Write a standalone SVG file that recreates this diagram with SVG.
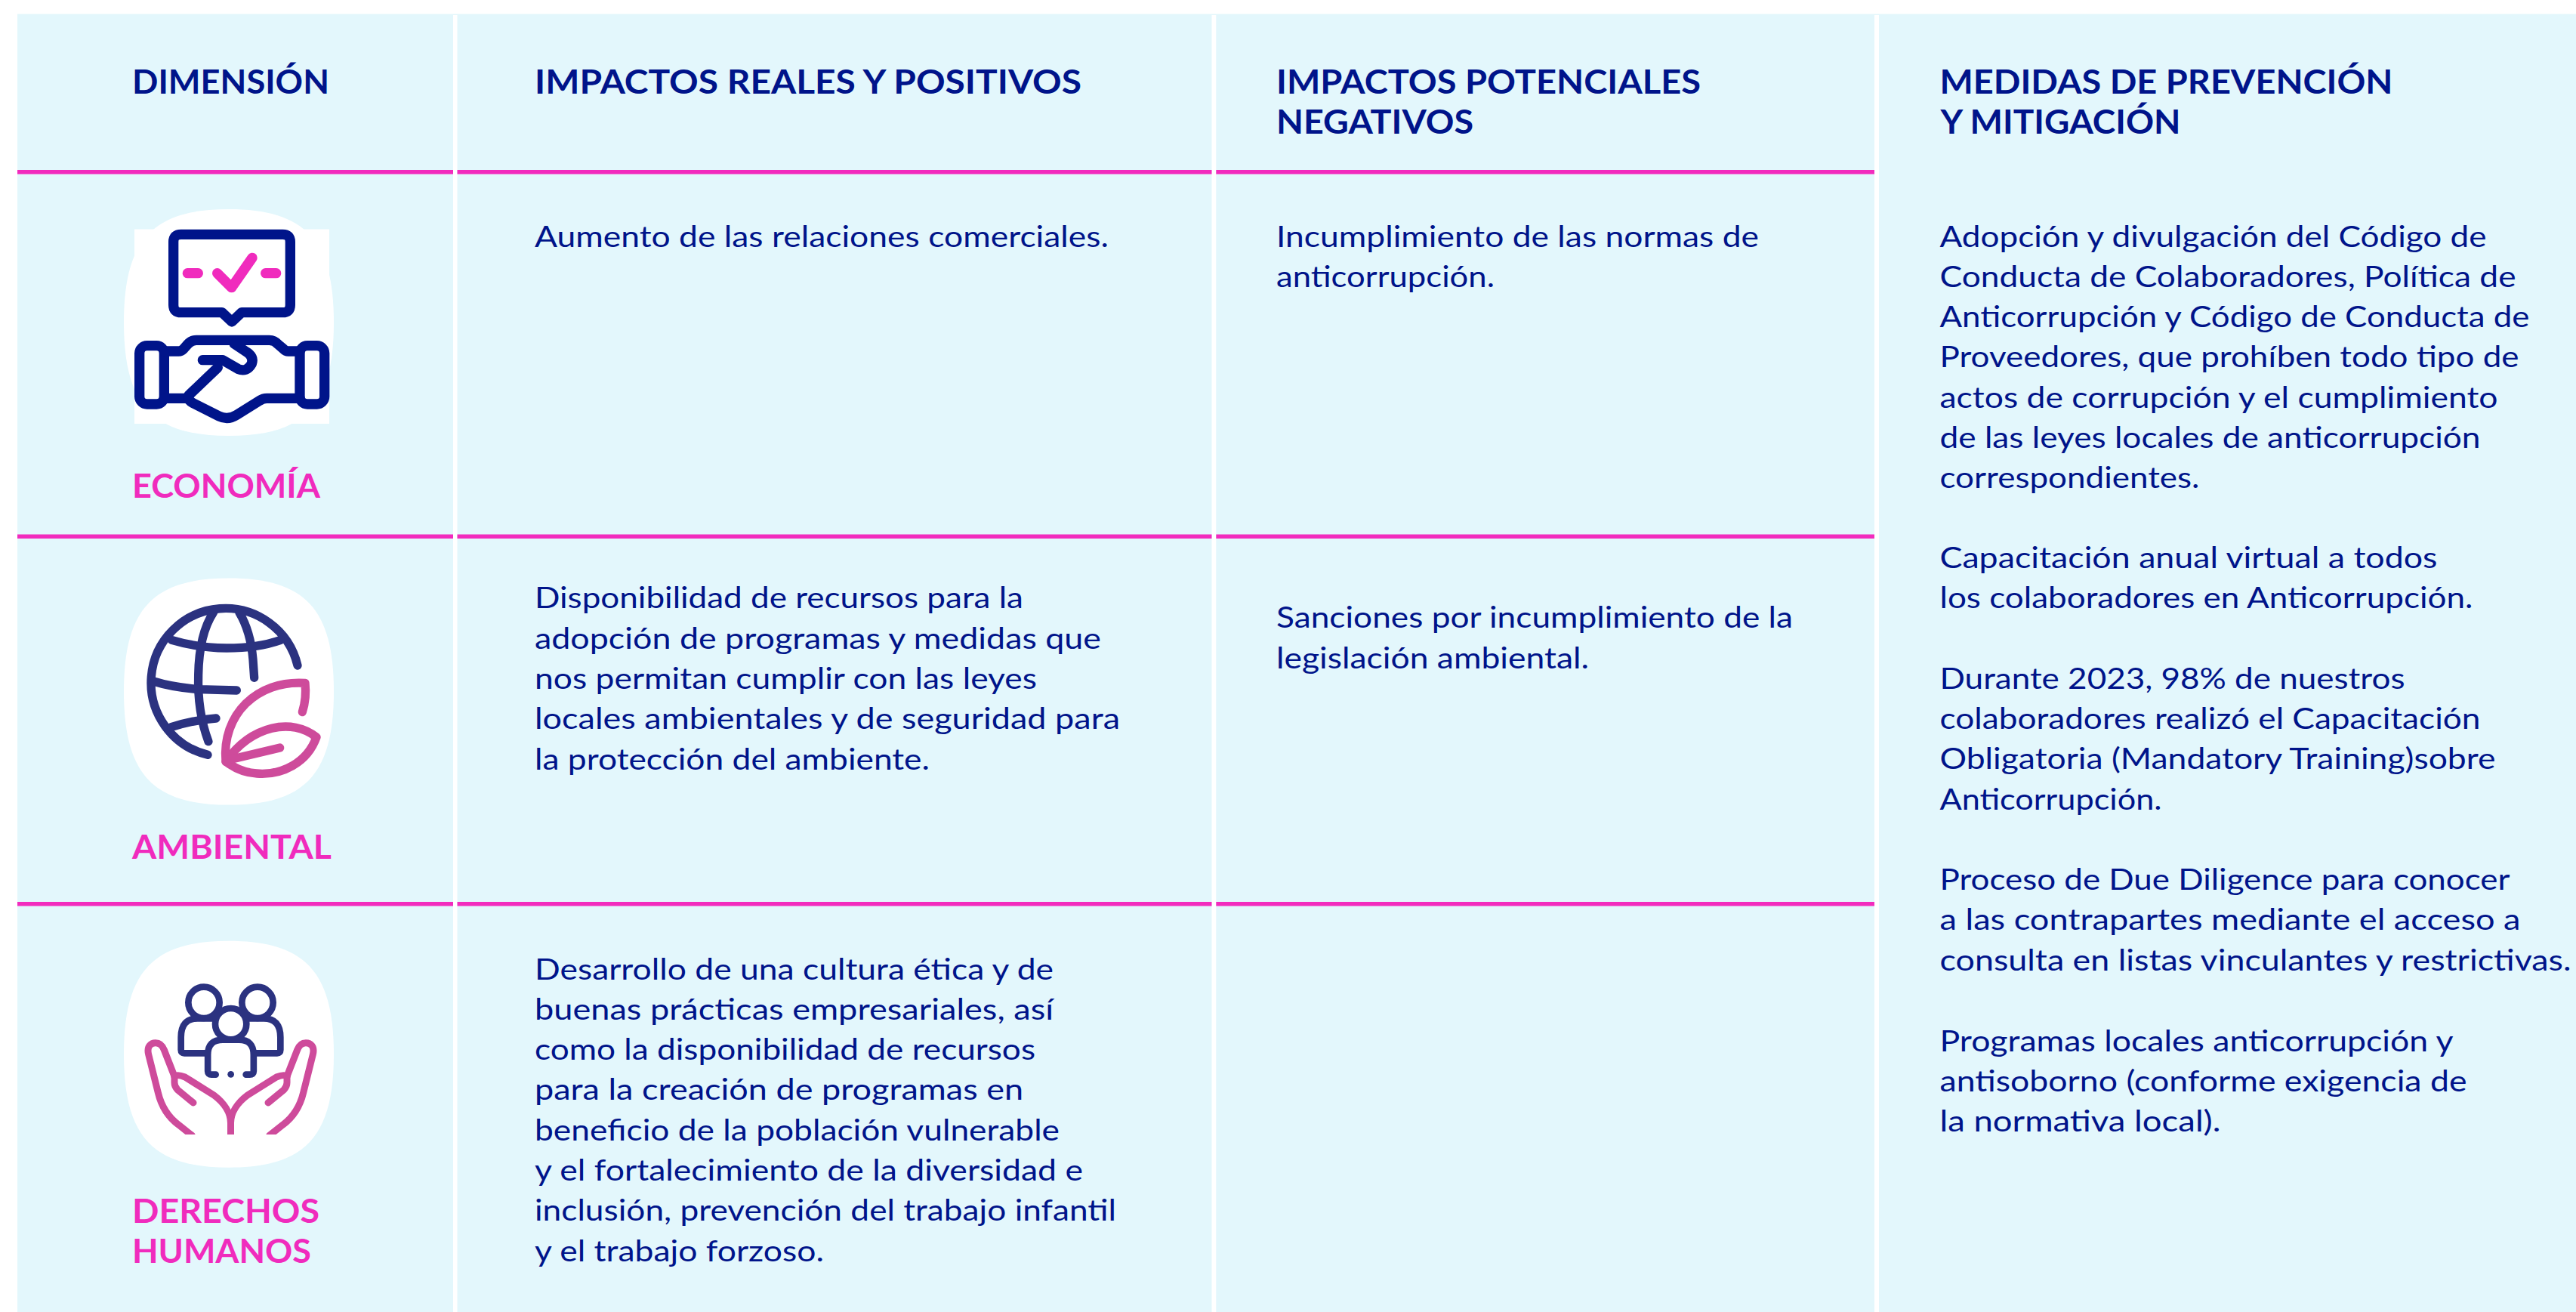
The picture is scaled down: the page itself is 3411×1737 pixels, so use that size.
<svg xmlns="http://www.w3.org/2000/svg" width="3411" height="1737" viewBox="0 0 3411 1737">
<style>
text{font-family:"Lato","Open Sans","Liberation Sans",sans-serif}
.b{font-size:39px;fill:#00148a;font-weight:400}
.h{font-size:44px;fill:#00148a;font-weight:700}
.l{font-size:44px;fill:#f02bbd;font-weight:700}
.rule{fill:#f22bbd}
.gap{fill:#fff}
.ln{fill:none;stroke-linecap:round;stroke-linejoin:round}
.nv{stroke:#00148a;stroke-width:40}
.pk{stroke:#f02bbd;stroke-width:40}
.g2{stroke:#2b3280;stroke-width:34}
.lf{stroke:#ce4b9b;stroke-width:34}
.p3{stroke:#2b3280;stroke-width:26}
.h3{stroke:#ce4b9b;stroke-width:27}
</style>
<defs>
<path id="blob" d="M0,-150C100,-150 139,-110 139,0C139,110 100,150 0,150C-100,150 -139,110 -139,0C-139,-110 -100,-150 0,-150Z" fill="#fff"/>
<clipPath id="cut"><rect x="150" y="400" width="800" height="446"/></clipPath>
<g id="hand" class="ln h3">
<path d="M403,850L350,808C305,775 280,730 268,680L230,528C222,495 240,482 258,482C275,482 285,492 292,510L333,615"/>
<path d="M333,615Q345,606 375,618L490,690C530,720 556,760 556.5,800V850"/>
<path d="M333,612V640Q333,655 345,668L408,720"/>
</g>
</defs>
<rect id="table-bg" x="23" y="18.500" width="3388" height="1718.500" fill="#e3f7fc"/>
<g id="grid">
<rect class="gap" x="600" y="20" width="5.500" height="1717"/>
<rect class="gap" x="1604.500" y="20" width="5.800" height="1717"/>
<rect class="gap" x="2482" y="20" width="6" height="1717"/>
<rect class="rule" x="23" y="225" width="577" height="5.500"/>
<rect class="rule" x="605.500" y="225" width="999" height="5.500"/>
<rect class="rule" x="1610.300" y="225" width="871.700" height="5.500"/>
<rect class="rule" x="23" y="707.500" width="577" height="5.500"/>
<rect class="rule" x="605.500" y="707.500" width="999" height="5.500"/>
<rect class="rule" x="1610.300" y="707.500" width="871.700" height="5.500"/>
<rect class="rule" x="23" y="1194" width="577" height="5.500"/>
<rect class="rule" x="605.500" y="1194" width="999" height="5.500"/>
<rect class="rule" x="1610.300" y="1194" width="871.700" height="5.500"/>
</g>
<g id="head-dimension"><text class="h" x="175" y="124" textLength="261" lengthAdjust="spacingAndGlyphs">DIMENSIÓN</text></g>
<g id="head-reales"><text class="h" x="708" y="124" textLength="724" lengthAdjust="spacingAndGlyphs">IMPACTOS REALES Y POSITIVOS</text></g>
<g id="head-potenciales"><text class="h" x="1690" y="124" textLength="562" lengthAdjust="spacingAndGlyphs">IMPACTOS POTENCIALES</text><text class="h" x="1690" y="177" textLength="261" lengthAdjust="spacingAndGlyphs">NEGATIVOS</text></g>
<g id="head-medidas" transform="translate(1.500 0)"><text class="h" x="2567" y="124" textLength="600" lengthAdjust="spacingAndGlyphs">MEDIDAS DE PREVENCIÓN</text><text class="h" x="2568" y="177" textLength="318" lengthAdjust="spacingAndGlyphs">Y MITIGACIÓN</text></g>

<g id="row-economia">
<use href="#blob" x="303" y="427"/>
<rect x="178" y="303.500" width="258" height="257.500" fill="#fff"/>
<g transform="translate(140 270) scale(.33333)">
<g class="ln nv">
<path d="M299,121H703Q733,121 733,151V401Q733,431 703,431H540L501,468L462,431H299Q269,431 269,401V151Q269,121 299,121Z"/>
<rect x="134" y="563" width="98" height="232" rx="30"/>
<rect x="771" y="563" width="98" height="232" rx="30"/>
<path d="M232,585H290Q300,585 310,575L325,558Q340,541 360,541H650Q670,541 685,558L705,575Q715,585 725,585H771"/>
<path d="M232,772H330"/>
<path d="M771,772H640Q625,772 610,782L520,838Q485,860 450,843L345,790Q315,772 335,755L445,650"/>
<path d="M385,620H465L525,655Q560,670 580,635Q590,605 555,585L510,555"/>
</g>
<g class="ln pk">
<path d="M325,275H367"/><path d="M635,275H677"/><path d="M443,275L500,332L582,214"/>
</g>
</g>
<text class="l" x="175" y="659" textLength="249" lengthAdjust="spacingAndGlyphs">ECONOMÍA</text>
</g>

<g id="row-ambiental">
<use href="#blob" x="303" y="915.600"/>
<g transform="translate(120 740) scale(.33333)">
<g class="ln g2">
<path d="M822,423A295,295 0 1 0 465,778"/>
<path d="M488,212C450,270 430,350 428,460C425,560 440,650 468,725"/>
<path d="M590,212C625,270 640,340 645,400L650,472"/>
<path d="M322,322C400,345 470,354 540,354C620,354 690,345 755,322"/>
<path d="M250,486C310,505 370,513 430,518L580,522"/>
<path d="M320,668C370,652 430,638 498,633"/>
</g>
<g class="ln lf">
<path d="M537,805C520,620 660,480 852,493C856,530 853,570 841,608"/>
<path d="M537,805C640,660 800,630 897,708C860,810 760,860 660,852C610,850 570,830 537,805Z"/>
<path d="M540,800L752,750"/>
</g>
</g>
<text class="l" x="175" y="1137.300" textLength="264" lengthAdjust="spacingAndGlyphs">AMBIENTAL</text>
</g>

<g id="row-derechos">
<use href="#blob" x="303" y="1395.700"/>
<g transform="translate(120 1220) scale(.33333)">
<g class="ln p3">
<circle cx="450" cy="322" r="62"/>
<circle cx="663" cy="322" r="62"/>
<path d="M455,523H372Q359,523 359,510V460Q359,385 425,385H490"/>
<path d="M658,523H741Q754,523 754,510V460Q754,385 688,385H623"/>
<circle cx="557" cy="407" r="62" fill="#fff"/>
<path d="M497,608H480Q465.500,608 465.500,595V530Q465.500,470 525,470H590Q647.500,470 647.500,530V595Q647.500,608 632,608H617" fill="#fff"/>
</g>
<circle cx="557" cy="607" r="13" fill="#2b3280"/>
<g clip-path="url(#cut)">
<use href="#hand"/>
<use href="#hand" transform="translate(1113 0) scale(-1 1)"/>
</g>
</g>
<text class="l" x="175" y="1618.500" textLength="248" lengthAdjust="spacingAndGlyphs">DERECHOS</text>
<text class="l" x="175" y="1671.500" textLength="237" lengthAdjust="spacingAndGlyphs">HUMANOS</text>
</g>

<g id="cell-reales-economia" transform="translate(0 -1.500)"><text class="b" x="708" y="328.500" textLength="760" lengthAdjust="spacingAndGlyphs">Aumento de las relaciones comerciales.</text></g>
<g id="cell-potenciales-economia" transform="translate(0 -1.500)">
<text class="b" x="1690" y="328.500" textLength="639" lengthAdjust="spacingAndGlyphs">Incumplimiento de las normas de</text>
<text class="b" x="1690" y="381.700" textLength="289" lengthAdjust="spacingAndGlyphs">anticorrupción.</text>
</g>
<g id="cell-reales-ambiental" transform="translate(0 -1.500)">
<text class="b" x="708" y="806.700" textLength="647" lengthAdjust="spacingAndGlyphs">Disponibilidad de recursos para la</text>
<text class="b" x="708" y="860" textLength="750" lengthAdjust="spacingAndGlyphs">adopción de programas y medidas que</text>
<text class="b" x="708" y="913.300" textLength="665" lengthAdjust="spacingAndGlyphs">nos permitan cumplir con las leyes</text>
<text class="b" x="708" y="966.700" textLength="775" lengthAdjust="spacingAndGlyphs">locales ambientales y de seguridad para</text>
<text class="b" x="708" y="1020" textLength="523" lengthAdjust="spacingAndGlyphs">la protección del ambiente.</text>
</g>
<g id="cell-potenciales-ambiental" transform="translate(0 -1.500)">
<text class="b" x="1690" y="832.800" textLength="684" lengthAdjust="spacingAndGlyphs">Sanciones por incumplimiento de la</text>
<text class="b" x="1690" y="886" textLength="414" lengthAdjust="spacingAndGlyphs">legislación ambiental.</text>
</g>
<g id="cell-reales-derechos" transform="translate(0 -1.500)">
<text class="b" x="708" y="1298" textLength="687" lengthAdjust="spacingAndGlyphs">Desarrollo de una cultura ética y de</text>
<text class="b" x="708" y="1351.300" textLength="687" lengthAdjust="spacingAndGlyphs">buenas prácticas empresariales, así</text>
<text class="b" x="708" y="1404.600" textLength="663" lengthAdjust="spacingAndGlyphs">como la disponibilidad de recursos</text>
<text class="b" x="708" y="1457.900" textLength="647" lengthAdjust="spacingAndGlyphs">para la creación de programas en</text>
<text class="b" x="708" y="1511.200" textLength="695" lengthAdjust="spacingAndGlyphs">beneficio de la población vulnerable</text>
<text class="b" x="708" y="1564.500" textLength="726" lengthAdjust="spacingAndGlyphs">y el fortalecimiento de la diversidad e</text>
<text class="b" x="708" y="1617.800" textLength="770" lengthAdjust="spacingAndGlyphs">inclusión, prevención del trabajo infantil</text>
<text class="b" x="708" y="1671" textLength="383" lengthAdjust="spacingAndGlyphs">y el trabajo forzoso.</text>
</g>
<g id="cell-medidas" transform="translate(1.500 -1.500)">
<text class="b" x="2567" y="328" textLength="724" lengthAdjust="spacingAndGlyphs">Adopción y divulgación del Código de</text>
<text class="b" x="2567" y="381.200" textLength="763" lengthAdjust="spacingAndGlyphs">Conducta de Colaboradores, Política de</text>
<text class="b" x="2567" y="434.500" textLength="781" lengthAdjust="spacingAndGlyphs">Anticorrupción y Código de Conducta de</text>
<text class="b" x="2567" y="487.700" textLength="767" lengthAdjust="spacingAndGlyphs">Proveedores, que prohíben todo tipo de</text>
<text class="b" x="2567" y="541" textLength="739" lengthAdjust="spacingAndGlyphs">actos de corrupción y el cumplimiento</text>
<text class="b" x="2567" y="594.200" textLength="716" lengthAdjust="spacingAndGlyphs">de las leyes locales de anticorrupción</text>
<text class="b" x="2567" y="647.500" textLength="344" lengthAdjust="spacingAndGlyphs">correspondientes.</text>
<text class="b" x="2567" y="753.500" textLength="659" lengthAdjust="spacingAndGlyphs">Capacitación anual virtual a todos</text>
<text class="b" x="2567" y="806.700" textLength="706" lengthAdjust="spacingAndGlyphs">los colaboradores en Anticorrupción.</text>
<text class="b" x="2567" y="913.400" textLength="616" lengthAdjust="spacingAndGlyphs">Durante 2023, 98% de nuestros</text>
<text class="b" x="2567" y="966.600" textLength="716" lengthAdjust="spacingAndGlyphs">colaboradores realizó el Capacitación</text>
<text class="b" x="2567" y="1019.900" textLength="736" lengthAdjust="spacingAndGlyphs">Obligatoria (Mandatory Training)sobre</text>
<text class="b" x="2567" y="1073.200" textLength="294" lengthAdjust="spacingAndGlyphs">Anticorrupción.</text>
<text class="b" x="2567" y="1179.600" textLength="755" lengthAdjust="spacingAndGlyphs">Proceso de Due Diligence para conocer</text>
<text class="b" x="2567" y="1232.900" textLength="769" lengthAdjust="spacingAndGlyphs">a las contrapartes mediante el acceso a</text>
<text class="b" x="2567" y="1286.200" textLength="836" lengthAdjust="spacingAndGlyphs">consulta en listas vinculantes y restrictivas.</text>
<text class="b" x="2567" y="1393" textLength="680" lengthAdjust="spacingAndGlyphs">Programas locales anticorrupción y</text>
<text class="b" x="2567" y="1446.300" textLength="698" lengthAdjust="spacingAndGlyphs">antisoborno (conforme exigencia de</text>
<text class="b" x="2567" y="1499.500" textLength="372" lengthAdjust="spacingAndGlyphs">la normativa local).</text>
</g>
</svg>
